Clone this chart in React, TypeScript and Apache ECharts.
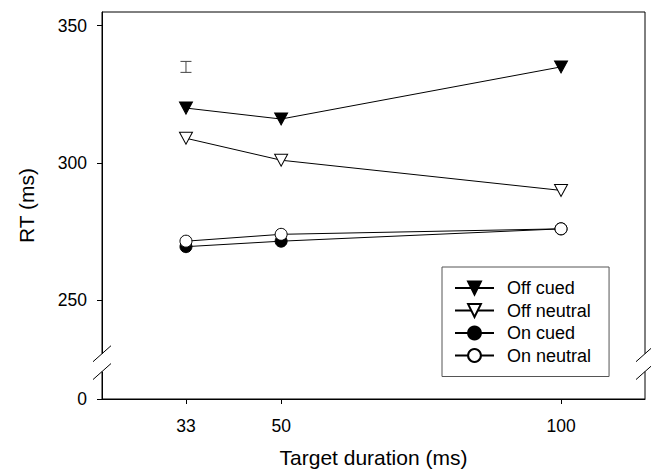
import React, { useEffect, useRef } from 'react';
import * as echarts from 'echarts';

// ---- data ----
const durations = [33, 50, 100];
const offCued = [320, 316, 335];
const offNeutral = [309, 301, 290];
const onCued = [269.5, 271.5, 276];
const onNeutral = [271.5, 274, 276];
const errorBar = [[33, 333, 337]]; // x, low, high
const xTickValues = [33, 50, 100];
const yTickValues = [250, 300, 350];
const seriesNames = ['Off cued', 'Off neutral', 'On cued', 'On neutral'];

// axis extents (the y axis is broken: its floor is labelled 0)
const X_MIN = 18;
const X_MAX = 115;
const Y_FLOOR = 214;
const Y_MAX = 355;
const Y_BREAK = [224, 230.5];

const FONT = 'Liberation Sans, Arial, Helvetica, sans-serif';
const TRI_DOWN = 'path://M0,0L20,0L10,18Z';

export default function App() {
  const ref = useRef<HTMLDivElement>(null);

  useEffect(() => {
    if (!ref.current) return;
    const chart = echarts.init(ref.current, undefined, { renderer: 'svg' });

    const pair = (vals: number[]) => durations.map((d, i) => [d, vals[i]]);
    const lineBase = {
      type: 'line' as const,
      lineStyle: { color: '#000', width: 1 },
      emphasis: { disabled: true },
    };

    chart.setOption({
      animation: false,
      backgroundColor: '#fff',
      textStyle: { fontFamily: FONT },
      grid: {
        left: 102,
        top: 12,
        right: 6,
        bottom: 73,
        show: true,
        borderColor: '#000',
        borderWidth: 1,
        backgroundColor: 'transparent',
      },
      xAxis: {
        type: 'value',
        min: X_MIN,
        max: X_MAX,
        name: 'Target duration (ms)',
        nameLocation: 'middle',
        nameGap: 48,
        nameTextStyle: { fontSize: 21, color: '#000', fontFamily: FONT },
        splitLine: { show: false },
        axisLine: { lineStyle: { color: '#000', width: 1 } },
        axisTick: { customValues: xTickValues, length: 5, lineStyle: { color: '#000' } },
        axisLabel: {
          customValues: xTickValues,
          fontSize: 17.5,
          color: '#000',
          margin: 18,
          fontFamily: FONT,
        },
      },
      yAxis: {
        type: 'value',
        min: Y_FLOOR,
        max: Y_MAX,
        name: 'RT (ms)',
        nameLocation: 'middle',
        nameGap: 65,
        nameTextStyle: { fontSize: 21, color: '#000', fontFamily: FONT },
        splitLine: { show: false },
        axisLine: { show: true, lineStyle: { color: '#000', width: 1 } },
        axisTick: {
          show: true,
          customValues: [Y_FLOOR, ...yTickValues],
          length: 5,
          lineStyle: { color: '#000' },
        },
        axisLabel: {
          customValues: [Y_FLOOR, ...yTickValues],
          formatter: (v: number) => (v === Y_FLOOR ? '0' : String(v)),
          fontSize: 17.5,
          color: '#000',
          margin: 15,
          fontFamily: FONT,
        },
      },
      legend: {
        data: seriesNames,
        orient: 'vertical',
        left: 442,
        top: 267,
        padding: [12, 18, 12, 12],
        itemWidth: 39,
        itemHeight: 16,
        itemGap: 4.5,
        borderColor: '#555',
        borderWidth: 1,
        backgroundColor: '#fff',
        selectedMode: false,
        textStyle: { fontSize: 18, color: '#000', fontFamily: FONT, padding: [0, 0, 0, 8] },
      },
      series: [
        {
          ...lineBase,
          name: seriesNames[0],
          data: pair(offCued),
          symbol: TRI_DOWN,
          symbolSize: [13, 12],
          itemStyle: { color: '#000', borderColor: '#000', borderWidth: 1 },
        },
        {
          ...lineBase,
          name: seriesNames[1],
          data: pair(offNeutral),
          symbol: TRI_DOWN,
          symbolSize: [13, 12],
          itemStyle: { color: '#fff', borderColor: '#000', borderWidth: 1 },
        },
        {
          ...lineBase,
          name: seriesNames[2],
          data: pair(onCued),
          symbol: 'circle',
          symbolSize: 12,
          itemStyle: { color: '#000', borderColor: '#000', borderWidth: 1 },
        },
        {
          ...lineBase,
          name: seriesNames[3],
          data: pair(onNeutral),
          symbol: 'circle',
          symbolSize: 12,
          itemStyle: { color: '#fff', borderColor: '#000', borderWidth: 1 },
        },
        {
          type: 'custom',
          name: 'SE',
          data: errorBar,
          silent: true,
          renderItem: (params: any, api: any) => {
            const x = api.value(0);
            const lo = api.coord([x, api.value(1)]);
            const hi = api.coord([x, api.value(2)]);
            const cap = 5.5;
            const style = { stroke: '#444', lineWidth: 1 };
            return {
              type: 'group',
              children: [
                { type: 'line', shape: { x1: lo[0], y1: lo[1], x2: hi[0], y2: hi[1] }, style },
                { type: 'line', shape: { x1: hi[0] - cap, y1: hi[1], x2: hi[0] + cap, y2: hi[1] }, style },
                { type: 'line', shape: { x1: lo[0] - cap, y1: lo[1], x2: lo[0] + cap, y2: lo[1] }, style },
              ],
            };
          },
        },
      ],
    });

    // axis-break marks, positioned through the axes
    const xl = chart.convertToPixel({ xAxisIndex: 0 }, X_MIN) as number;
    const xr = chart.convertToPixel({ xAxisIndex: 0 }, X_MAX) as number;
    const yHi = chart.convertToPixel({ yAxisIndex: 0 }, Y_BREAK[1]) as number;
    const yLo = chart.convertToPixel({ yAxisIndex: 0 }, Y_BREAK[0]) as number;
    const g: any[] = [];
    [xl, xr].forEach((x) => {
      g.push({
        type: 'rect',
        z: 100,
        shape: { x: x - 2, y: yHi, width: 4, height: yLo - yHi },
        style: { fill: '#fff' },
      });
      [yHi, yLo].forEach((y) => {
        g.push({
          type: 'line',
          z: 101,
          shape: { x1: x - 9, y1: y + 8, x2: x + 9, y2: y - 8 },
          style: { stroke: '#000', lineWidth: 1 },
        });
      });
    });
    chart.setOption({ graphic: g });

    return () => chart.dispose();
  }, []);

  return (
    <div
      ref={ref}
      style={{ position: 'fixed', left: 0, top: 0, width: 651, height: 473, background: '#fff' }}
    />
  );
}
